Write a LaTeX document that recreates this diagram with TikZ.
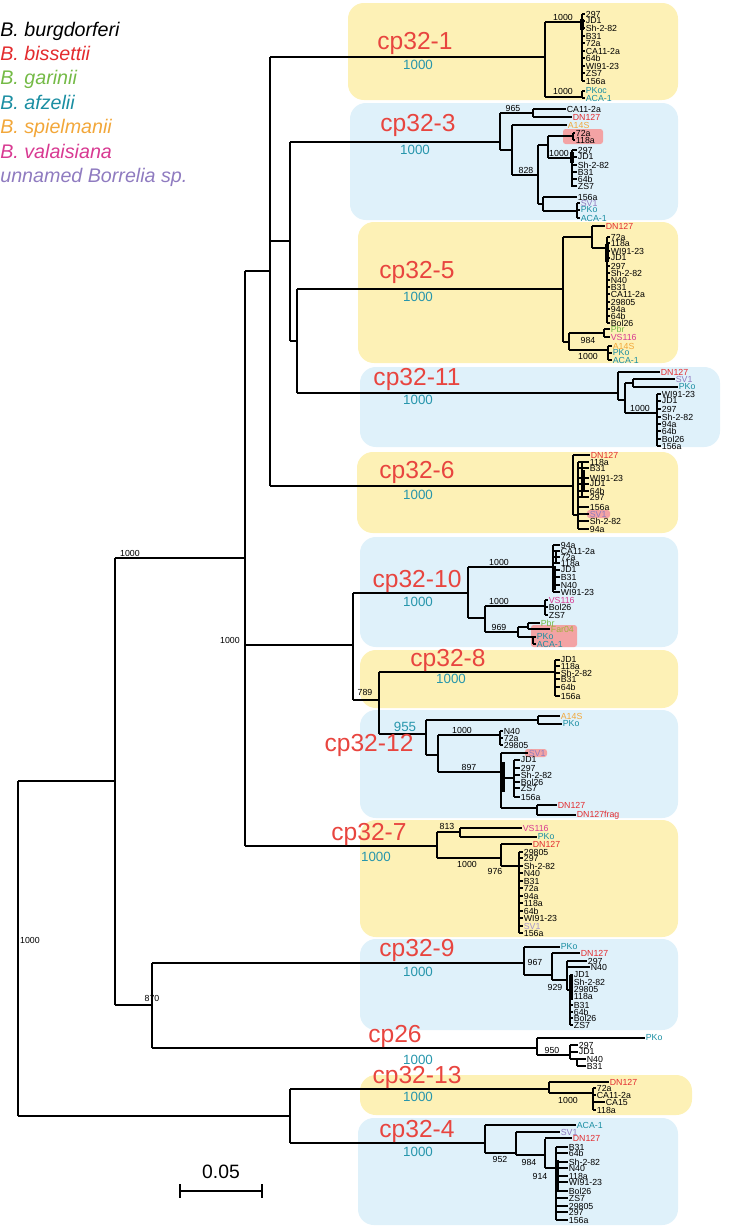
\documentclass[tikz,border=0pt]{standalone}
\usepackage{fontspec}
\setmainfont{Liberation Sans}
\usetikzlibrary{positioning}
\definecolor{bisred}{HTML}{E32B2E}
\definecolor{cpred}{HTML}{E8453F}
\definecolor{garg}{HTML}{74BA46}
\definecolor{afzt}{HTML}{1A8EA2}
\definecolor{bootT}{HTML}{2796AC}
\definecolor{spio}{HTML}{F2A73A}
\definecolor{valm}{HTML}{D83A92}
\definecolor{unnp}{HTML}{8F7BC0}
\definecolor{farol}{HTML}{9DB23A}
\definecolor{boxY}{HTML}{FDF1B6}
\definecolor{boxB}{HTML}{DFF1FA}
\definecolor{hiP}{HTML}{F3A3A4}
\newcommand{\leaffont}{\fontsize{5}{5}\selectfont}
\tikzset{
  branch/.style={line width=0.8pt},
  twig/.style={line width=0.6pt},
  fat/.style={line width=1.8pt},
  leaf/.style={anchor=west, inner sep=0.3pt, font=\leaffont},
  boot/.style={inner sep=0.3pt, font=\leaffont},
  cladeName/.style={text=cpred, inner sep=0pt, font=\fontsize{14}{14}\selectfont},
  cladeBoot/.style={text=bootT, inner sep=0pt, font=\fontsize{7.6}{7.6}\selectfont},
  yBox/.style={fill=boxY, rounded corners=9pt},
  bBox/.style={fill=boxB, rounded corners=9pt},
  hiBox/.style={fill=hiP, rounded corners=1.5pt},
  legendEntry/.style={anchor=base west, inner sep=0pt, font=\fontsize{11.2}{11.2}\selectfont\itshape}
}
% leaves in a column: line x, label x, list of label/y
\newcommand{\leafset}[3]{%
  \foreach \lbl/\yy in {#3}{%
    \draw[twig] (#1,\yy) -- (#2,\yy);
    \node[leaf] at (#2,\yy) {\lbl};}}
% one coloured tip: line x, label x, y, colour, text
\newcommand{\tip}[5]{%
  \draw[twig] (#1,#3) -- (#2,#3);
  \node[leaf, text=#4] at (#2,#3) {#5};}

\begin{document}
\begin{tikzpicture}[x=0.02cm,y=-0.02cm]
\useasboundingbox (0,0) rectangle (750,1227);

% coloured boxes
\fill[yBox] (348,3) rectangle (678,100);
\fill[bBox] (350,103) rectangle (678,220);
\fill[yBox] (358,222) rectangle (678,363);
\fill[bBox] (360,367) rectangle (720,447);
\fill[yBox] (357,452) rectangle (678,533);
\fill[bBox] (360,537) rectangle (678,647);
\fill[yBox] (360,650) rectangle (678,708);
\fill[bBox] (360,710) rectangle (678,818);
\fill[yBox] (360,820) rectangle (678,937);
\fill[bBox] (360,939) rectangle (678,1030);
\fill[yBox] (360,1075) rectangle (692,1115);
\fill[bBox] (358,1118) rectangle (678,1225);
% highlights
\fill[hiBox] (563,129) rectangle (603,144);
\fill[hiBox] (587,510) rectangle (610,518);
\fill[hiBox] (531,625) rectangle (577,647);
\fill[hiBox] (525,749) rectangle (547,757);

% legend
\node[legendEntry] (lgBur) at (0,36) {B. burgdorferi};
\node[legendEntry, text=bisred, below=13.9pt of lgBur.base west, anchor=base west] (lgBis) {B. bissettii};
\node[legendEntry, text=garg, below=13.9pt of lgBis.base west, anchor=base west] (lgGar) {B. garinii};
\node[legendEntry, text=afzt, below=13.9pt of lgGar.base west, anchor=base west] (lgAfz) {B. afzelii};
\node[legendEntry, text=spio, below=13.9pt of lgAfz.base west, anchor=base west] (lgSpi) {B. spielmanii};
\node[legendEntry, text=valm, below=13.9pt of lgSpi.base west, anchor=base west] (lgVal) {B. valaisiana};
\node[legendEntry, text=unnp, below=13.9pt of lgVal.base west, anchor=base west] (lgUnn) {unnamed Borrelia sp.};

% backbone
\draw[branch] (18,781) -- (18,1116);
\draw[branch] (18,781) -- (115,781) (18,1116) -- (290,1116);
\draw[branch] (115,558) -- (115,1005) (115,558) -- (245,558) (115,1005) -- (152,1005);
\draw[branch] (152,963) -- (152,1048);
\draw[branch] (245,271) -- (245,846) (245,271) -- (270,271) (245,645) -- (353,645);
\draw[branch] (270,57) -- (270,486) (270,241) -- (290,241);
\draw[branch] (290,142) -- (290,341) (290,341) -- (297,341);
\draw[branch] (297,289) -- (297,393);
\draw[branch] (353,593) -- (353,700) (353,700) -- (379,700);
\draw[branch] (379,672) -- (379,734);
\draw[branch] (290,1089) -- (290,1143);
\node[boot] (bRoot) at (30,940) {1000};
\node[boot] (bLeft) at (130,553) {1000};
\node[boot] (b870) at (152,998) {870};
\node[boot] (bMid) at (230,640) {1000};
\node[boot] (b789) at (365,692) {789};

% cp32-1
\draw[branch] (270,57) -- (545,57) (545,22) -- (545,97) (545,22) -- (582,22) (545,97) -- (582,97);
\draw[branch] (582,14) -- (582,81) (582,91) -- (582,98);
\draw[fat] (582,19) -- (582,30);
\leafset{582}{585}{297/14, JD1/21, Sh-2-82/28, B31/36, 72a/43, CA11-2a/51, 64b/58, WI91-23/66, ZS7/73, 156a/81}
\tip{582}{585}{91}{afzt}{PKoc}
\tip{582}{585}{98}{afzt}{ACA-1}
\node[boot] at (563,17) {1000};
\node[boot] at (563,91) {1000};
\node[cladeName] (cp1) at (415,43) {cp32-1};
\node[cladeBoot] (cp1b) at (418,65) {1000};

% cp32-3
\draw[branch] (290,142) -- (500,142) (500,113) -- (500,150) (500,113) -- (533,113) (533,109) -- (533,117);
\tip{533}{566}{109}{black}{CA11-2a}
\tip{533}{572}{117}{bisred}{DN127}
\draw[branch] (500,150) -- (512,150) (512,125) -- (512,175) (512,175) -- (538,175);
\tip{512}{567}{125}{spio}{A14S}
\draw[branch] (538,145) -- (538,204) (538,145) -- (548,145) (548,136) -- (548,158) (548,136) -- (573,136) (573,133) -- (573,140);
\leafset{573}{575}{72a/133, 118a/140}
\draw[branch] (548,158) -- (572,158) (572,150) -- (572,187);
\draw[fat] (572,152) -- (572,163);
\leafset{572}{577}{297/150, JD1/157, Sh-2-82/165, B31/172, 64b/179, ZS7/186}
\draw[branch] (538,204) -- (543,204) (543,197) -- (543,211) (543,211) -- (577,211) (577,203) -- (577,218);
\tip{543}{577}{197}{black}{156a}
\tip{577}{580}{203}{unnp}{SV1}
\tip{577}{580}{210}{afzt}{PKo}
\tip{577}{580}{218}{afzt}{ACA-1}
\node[boot] at (513,108) {965};
\node[boot] at (526,170) {828};
\node[boot] at (559,153) {1000};
\node[cladeName] (cp3) at (418,125) {cp32-3};
\node[cladeBoot] (cp3b) at (415,150) {1000};

% cp32-5
\draw[branch] (297,289) -- (563,289) (563,237) -- (563,342) (563,237) -- (592,237) (592,226) -- (592,248) (592,248) -- (607,248);
\tip{592}{605}{226}{bisred}{DN127}
\draw[branch] (607,237) -- (607,323);
\draw[fat] (607,244) -- (607,262);
\leafset{607}{610}{72a/237, 118a/243, WI91-23/251, JD1/258, 297/266, Sh-2-82/273, N40/280, B31/287, CA11-2a/294, 29805/302, 94a/309, 64b/316, Bol26/323}
\draw[branch] (563,342) -- (569,342) (569,333) -- (569,350) (569,333) -- (604,333) (604,329) -- (604,337) (569,350) -- (608,350) (608,346) -- (608,360);
\tip{604}{610}{329}{garg}{Pbr}
\tip{604}{610}{337}{valm}{VS116}
\tip{608}{612}{346}{spio}{A14S}
\tip{608}{612}{353}{afzt}{PKo}
\tip{608}{612}{360}{afzt}{ACA-1}
\node[boot] at (588,340) {984};
\node[boot] at (588,356) {1000};
\node[cladeName] (cp5) at (417,272) {cp32-5};
\node[cladeBoot] (cp5b) at (418,297) {1000};

% cp32-11
\draw[branch] (297,393) -- (618,393) (618,372) -- (618,400) (618,400) -- (625,400) (625,383) -- (625,413) (625,383) -- (633,383) (633,379) -- (633,387) (625,413) -- (657,413);
\tip{618}{660}{372}{bisred}{DN127}
\tip{633}{675}{379}{unnp}{SV1}
\tip{633}{678}{387}{afzt}{PKo}
\draw[branch] (657,394) -- (657,446);
\leafset{657}{661}{WI91-23/394, JD1/401, 297/409, Sh-2-82/417, 94a/424, 64b/431, Bol26/439, 156a/446}
\node[boot] at (640,408) {1000};
\node[cladeName] (cp11) at (417,379) {cp32-11};
\node[cladeBoot] (cp11b) at (418,400) {1000};

% cp32-6
\draw[branch] (270,486) -- (573,486) (573,455) -- (573,515) (573,515) -- (578,515) (578,462) -- (578,529) (582,462) -- (582,497) (584,470) -- (584,491);
\tip{573}{590}{455}{bisred}{DN127}
\leafset{578}{589}{118a/462, B31/468, WI91-23/478, JD1/484, 64b/491, 297/497, 156a/507}
\tip{578}{589}{514}{unnp}{SV1}
\leafset{578}{589}{Sh-2-82/521, 94a/529}
\node[cladeName] (cp6) at (417,472) {cp32-6};
\node[cladeBoot] (cp6b) at (418,495) {1000};

% cp32-10
\draw[branch] (353,593) -- (468,593) (468,567) -- (468,618) (468,567) -- (553,567) (553,545) -- (553,592) (556,551) -- (556,563);
\draw[fat] (554,566) -- (554,590);
\leafset{553}{560}{94a/545, CA11-2a/551, 72a/557, 118a/563, JD1/570, B31/577, N40/585, WI91-23/592}
\draw[branch] (468,618) -- (485,618) (485,606) -- (485,632) (485,606) -- (545,606) (545,600) -- (545,615);
\tip{545}{548}{600}{valm}{VS116}
\leafset{545}{548}{Bol26/607, ZS7/615}
\draw[branch] (485,632) -- (518,632) (518,627) -- (518,637) (518,627) -- (528,627) (528,623) -- (528,629) (518,637) -- (533,637) (533,637) -- (533,644);
\tip{528}{540}{623}{garg}{Pbr}
\tip{528}{550}{629}{farol}{Far04}
\tip{533}{536}{637}{afzt}{PKo}
\tip{533}{536}{644}{afzt}{ACA-1}
\node[boot] at (499,562) {1000};
\node[boot] at (499,601) {1000};
\node[boot] at (499,627) {969};
\node[cladeName] (cp10) at (417,581) {cp32-10};
\node[cladeBoot] (cp10b) at (418,602) {1000};

% cp32-8
\draw[branch] (379,672) -- (555,672) (555,660) -- (555,696);
\leafset{555}{560}{JD1/660, 118a/666, Sh-2-82/673, B31/679, 64b/687, 156a/696}
\node[cladeName] (cp8) at (448,660) {cp32-8};
\node[cladeBoot] (cp8b) at (451,679) {1000};

% cp32-12
\draw[branch] (379,734) -- (426,734) (426,720) -- (426,755) (426,720) -- (538,720) (538,716) -- (538,724);
\tip{538}{560}{716}{spio}{A14S}
\tip{538}{562}{724}{afzt}{PKo}
\draw[branch] (426,755) -- (438,755) (438,735) -- (438,772) (438,735) -- (500,735) (500,731) -- (500,745);
\leafset{500}{503}{N40/731, 72a/738, 29805/745}
\draw[branch] (438,772) -- (501,772) (501,753) -- (501,808) (501,778) -- (514,778) (514,760) -- (514,797);
\draw[fat] (503,762) -- (503,792);
\tip{501}{528}{753}{unnp}{SV1}
\leafset{514}{520}{JD1/760, 297/768, Sh-2-82/775, Bol26/782, ZS7/788, 156a/797}
\draw[branch] (501,808) -- (537,808) (537,805) -- (537,815);
\tip{537}{557}{805}{bisred}{DN127}
\tip{537}{576}{815}{bisred}{DN127frag}
\node[boot] at (462,730) {1000};
\node[boot] at (469,767) {897};
\node[cladeName] (cp12) at (369,745) {cp32-12};
\node[cladeBoot] (cp12b) at (405,727) {955};

% cp32-7
\draw[branch] (245,846) -- (437,846) (437,832) -- (437,858) (437,832) -- (460,832) (460,828) -- (460,837);
\tip{460}{522}{828}{valm}{VS116}
\tip{460}{537}{837}{afzt}{PKo}
\draw[branch] (437,858) -- (501,858) (501,844) -- (501,866) (501,866) -- (519,866) (519,852) -- (519,933);
\tip{501}{532}{844}{bisred}{DN127}
\leafset{519}{523}{29805/852, 297/858, Sh-2-82/866, N40/873, B31/881, 72a/888, 94a/896, 118a/903, 64b/911, WI91-23/918}
\tip{519}{523}{926}{unnp!80}{SV1}
\leafset{519}{523}{156a/933}
\node[boot] at (447,826) {813};
\node[boot] at (467,864) {1000};
\node[boot] at (495,871) {976};
\node[cladeName] (cp7) at (369,834) {cp32-7};
\node[cladeBoot] (cp7b) at (376,857) {1000};

% cp32-9
\draw[branch] (152,963) -- (524,963) (524,947) -- (524,975) (524,975) -- (552,975) (552,953) -- (552,980) (552,980) -- (567,980) (567,961) -- (567,990) (567,990) -- (570,990) (570,975) -- (570,1025);
\draw[fat] (571,976) -- (571,1000);
\tip{524}{560}{947}{afzt}{PKo}
\tip{552}{580}{953}{bisred}{DN127}
\leafset{567}{587}{297/961}
\leafset{567}{590}{N40/967}
\leafset{570}{573}{JD1/975, Sh-2-82/982, 29805/989, 118a/996, B31/1005, 64b/1012, Bol26/1018, ZS7/1025}
\node[boot] at (535,962) {967};
\node[boot] at (555,987) {929};
\node[cladeName] (cp9) at (417,950) {cp32-9};
\node[cladeBoot] (cp9b) at (418,972) {1000};

% cp26
\draw[branch] (152,1048) -- (537,1048) (537,1038) -- (537,1055) (537,1055) -- (570,1055) (570,1045) -- (570,1059) (570,1059) -- (577,1059) (577,1059) -- (577,1066);
\tip{537}{645}{1038}{afzt}{PKo}
\leafset{570}{578}{297/1045, JD1/1052}
\leafset{577}{586}{N40/1059, B31/1066}
\node[boot] at (552,1050) {950};
\node[cladeName] (cp26) at (395,1036) {cp26};
\node[cladeBoot] (cp26b) at (418,1060) {1000};

% cp32-13
\draw[branch] (290,1089) -- (549,1089) (549,1082) -- (549,1093) (549,1093) -- (593,1093) (593,1088) -- (593,1110);
\tip{549}{609}{1082}{bisred}{DN127}
\leafset{593}{596}{72a/1088, CA11-2a/1095}
\leafset{593}{605}{CA15/1102}
\leafset{593}{596}{118a/1110}
\node[boot] at (568,1100) {1000};
\node[cladeName] (cp13) at (417,1077) {cp32-13};
\node[cladeBoot] (cp13b) at (418,1097) {1000};

% cp32-4
\draw[branch] (290,1143) -- (485,1143) (485,1125) -- (485,1153) (485,1153) -- (516,1153) (516,1132) -- (516,1155) (516,1155) -- (545,1155) (545,1139) -- (545,1168) (545,1168) -- (556,1168) (556,1147) -- (556,1220);
\draw[fat] (557,1160) -- (557,1192);
\tip{485}{576}{1125}{afzt}{ACA-1}
\tip{516}{560}{1132}{unnp}{SV1}
\tip{545}{572}{1138}{bisred}{DN127}
\leafset{556}{568}{B31/1147, 64b/1153, Sh-2-82/1162, N40/1168, 118a/1176, WI91-23/1182, Bol26/1191, ZS7/1198, 29805/1206, 297/1212, 156a/1220}
\node[boot] at (500,1159) {952};
\node[boot] at (529,1162) {984};
\node[boot] at (540,1176) {914};
\node[cladeName] (cp4) at (417,1131) {cp32-4};
\node[cladeBoot] (cp4b) at (418,1152) {1000};

% scale bar
\coordinate (sbL) at (180,1191);
\coordinate (sbR) at (262,1191);
\draw[branch] (sbL) -- (sbR) (180,1184) -- (180,1198) (262,1184) -- (262,1198);
\node[inner sep=0pt, font=\fontsize{11}{11}\selectfont] (sbT) at (221,1172) {0.05};
\end{tikzpicture}
\end{document}
